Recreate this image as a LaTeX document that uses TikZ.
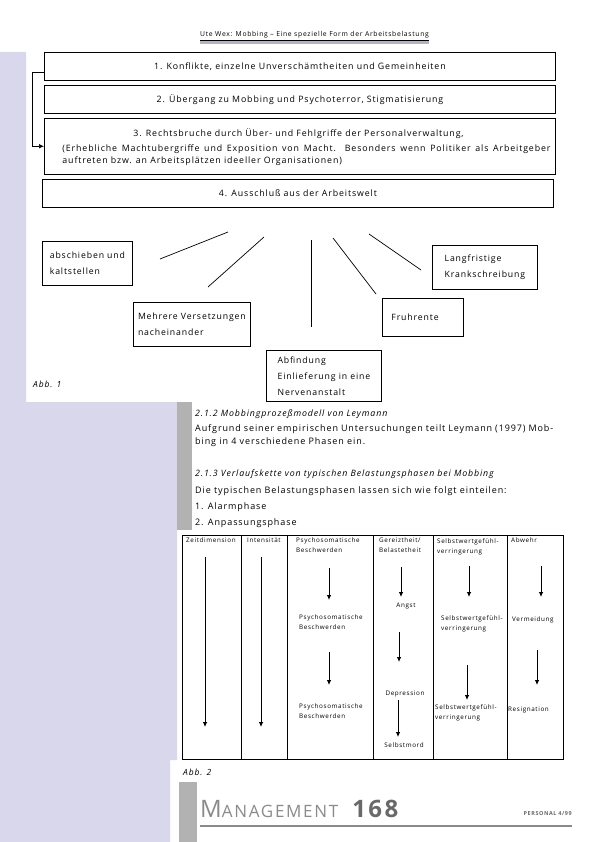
\documentclass[tikz,border=0pt]{standalone}
\usepackage{fontspec}
\setmainfont{Open Sans}[LetterSpace=10]
\usetikzlibrary{arrows.meta, positioning}
\definecolor{lavendel}{RGB}{217,215,236}
\definecolor{balken}{RGB}{178,178,178}
\definecolor{grauhell}{RGB}{138,138,138}
\definecolor{graudunkel}{RGB}{105,105,105}

\begin{document}
\begin{tikzpicture}[
    x=1pt, y=-1pt,
    % Kaesten der vier Phasen
    phase/.style={rectangle, draw=black, line width=0.9pt, minimum width=511pt, minimum height=28pt, inner sep=0pt, align=center, font=\fontsize{8.8}{12}\selectfont},
    % Kaesten der Folgen
    folge/.style={rectangle, draw=black, line width=0.8pt, anchor=north west, align=left, inner sep=0pt, font=\fontsize{8.7}{16}\selectfont},
    % Tabelle
    spalte/.style={rectangle, draw=black, line width=0.8pt, minimum width=#1, minimum height=224pt, inner sep=0pt, outer sep=0pt},
    kopf/.style={anchor=north west, align=left, inner sep=0pt, font=\fontsize{6.3}{10}\selectfont},
    eintrag/.style={align=left, inner sep=0pt, font=\fontsize{6.3}{10}\selectfont},
    % Text
    titel/.style={anchor=base west, inner sep=0pt, font=\fontsize{8.8}{12}\selectfont\itshape},
    absatz/.style={anchor=north west, inner sep=0pt, align=justify, font=\fontsize{9}{13}\selectfont},
    abb/.style={anchor=base west, inner sep=0pt, font=\fontsize{8.5}{10}\selectfont\itshape},
    % Linien und Pfeile
    linie/.style={line width=0.7pt},
    pfeil/.style={-{Latex[length=5pt, width=4.5pt]}, line width=0.8pt}
]
\useasboundingbox (0,0) rectangle (595,842);

% Hintergrund
\fill[lavendel] (0,52) -- (26,52) -- (26,402) -- (177,402) -- (177,760) -- (170,760) -- (170,842) -- (0,842) -- cycle;
\fill[balken] (177,402) rectangle (192,530);
\fill[balken] (179,782) rectangle (197,842);

% Kopfzeile
\node[anchor=base west, inner sep=0pt, font=\fontsize{6.8}{8}\selectfont] (kopfzeile) at (200,37) {Ute Wex: Mobbing – Eine spezielle Form der Arbeitsbelastung};
\draw[line width=0.4pt] ([yshift=-1pt]kopfzeile.south west) -- ([yshift=-1pt]kopfzeile.south east);
\draw[line width=3pt, lavendel!60!gray] ([yshift=-4pt]kopfzeile.south west) -- ([yshift=-4pt]kopfzeile.south east);

% Die vier Phasen
\node[phase, anchor=north west] (p1) at (44,52) {1. Konflikte, einzelne Unverschämtheiten und Gemeinheiten};
\node[phase, below=4pt of p1] (p2) {2. Übergang zu Mobbing und Psychoterror, Stigmatisierung};
\node[phase, below=4pt of p2, minimum height=56pt] (p3) {\hspace*{13pt}\parbox{488pt}{\vspace*{2pt}\hspace*{71pt}3. Rechtsbruche durch Über- und Fehlgriffe der Personalverwaltung,\\[3pt] (Erhebliche Machtubergriffe und Exposition von Macht. Besonders wenn Politiker als Arbeitgeber\linebreak auftreten bzw. an Arbeitsplätzen ideeller Organisationen)}};
\node[phase, below=4pt of p3, xshift=-2pt] (p4) {4. Ausschluß aus der Arbeitswelt};

% Rueckfuehrung von Phase 1 nach Phase 3
\draw[pfeil, line width=0.7pt] ([yshift=-6pt]p1.west) -- ++(-12,0) |- (p3.west);

% Folgen
\node[folge, minimum width=90pt, minimum height=44pt] (f1) at (42,241) {abschieben und\\kaltstellen};
\node[folge, minimum width=117pt, minimum height=44pt] (f2) at (133,302) {Mehrere Versetzungen\\nacheinander};
\node[folge, minimum width=115pt, minimum height=51pt] (f3) at (266,350) {Abfindung\\Einlieferung in eine\\Nervenanstalt};
\node[folge, minimum width=81pt, minimum height=38pt, text width=63pt] (f4) at (382,298) {Fruhrente};
\node[folge, minimum width=105pt, minimum height=44pt] (f5) at (432,245) {Langfristige\\Krankschreibung};

% Strahlen unter Phase 4
\coordinate (l1o) at (228,232); \coordinate (l1u) at (160,259);
\coordinate (l2o) at (264,237); \coordinate (l2u) at (208,287);
\coordinate (l3o) at (311,240); \coordinate (l3u) at (311,327);
\coordinate (l4o) at (333,238); \coordinate (l4u) at (376,294);
\coordinate (l5o) at (369,234); \coordinate (l5u) at (421,270);
\draw[linie] (l1o) -- (l1u);
\draw[linie] (l2o) -- (l2u);
\draw[linie] (l3o) -- (l3u);
\draw[linie] (l4o) -- (l4u);
\draw[linie] (l5o) -- (l5u);

\node[abb] (abb1) at (33,387) {Abb. 1};

% Fliesstext
\node[titel] (t212) at (195,416) {2.1.2 Mobbingprozeßmodell von Leymann};
\node[absatz, text width=358pt] (a212) at (195,424) {Aufgrund seiner empirischen Untersuchungen teilt Leymann (1997) Mob-\linebreak bing in 4 verschiedene Phasen ein.};
\node[titel] (t213) at (195,476) {2.1.3 Verlaufskette von typischen Belastungsphasen bei Mobbing};
\node[absatz, align=left, font=\fontsize{9}{16}\selectfont] (a213) at (195,486) {Die typischen Belastungsphasen lassen sich wie folgt einteilen:\\1. Alarmphase\\2. Anpassungsphase};

% Tabelle der Belastungsphasen
\node[spalte=59pt, anchor=north west] (s1) at (182,535) {};
\node[spalte=46pt, right=0pt of s1] (s2) {};
\node[spalte=86pt, right=0pt of s2] (s3) {};
\node[spalte=60pt, right=0pt of s3] (s4) {};
\node[spalte=74pt, right=0pt of s4] (s5) {};
\node[spalte=56pt, right=0pt of s5] (s6) {};

\node[kopf, below right=3pt and 4pt of s1.north west] (h1) {Zeitdimension};
\node[kopf, below right=3pt and 6pt of s2.north west] (h2) {Intensität};
\node[kopf, below right=3pt and 9pt of s3.north west] (h3) {Psychosomatische\\Beschwerden};
\node[kopf, below right=3pt and 6pt of s4.north west] (h4) {Gereiztheit/\\Belastetheit};
\node[kopf, below right=3pt and 4pt of s5.north west] (h5) {Selbstwertgefühl-\\verringerung};
\node[kopf, below right=3pt and 4pt of s6.north west] (h6) {Abwehr};

\node[eintrag, anchor=north west] (ps2) at (299,615) {Psychosomatische\\Beschwerden};
\node[eintrag, anchor=north west] (ps3) at (299,704) {Psychosomatische\\Beschwerden};
\node[eintrag] (angst) at (406,606) {Angst};
\node[eintrag] (depr) at (405,694) {Depression};
\node[eintrag] (mord) at (404,745) {Selbstmord};
\node[eintrag, anchor=north west] (sw2) at (441,615) {Selbstwertgefühl-\\verringerung};
\node[eintrag, anchor=north west] (sw3) at (435,704) {Selbstwertgefühl-\\verringerung};
\node[eintrag, anchor=west] (verm) at (512,620) {Vermeidung};
\node[eintrag, anchor=west] (resi) at (508,710) {Resignation};

% Pfeile in der Tabelle
\coordinate (z1o) at (205,557); \coordinate (z1u) at (205,727);
\coordinate (i1o) at (261,557); \coordinate (i1u) at (261,727);
\coordinate (ps1o) at (329,568); \coordinate (ps1u) at (329,600);
\coordinate (ps2o) at (329,652); \coordinate (ps2u) at (329,685);
\coordinate (g1o) at (401,567); \coordinate (g1u) at (401,597);
\coordinate (g2o) at (399,632); \coordinate (g2u) at (399,662);
\coordinate (g3o) at (398,700); \coordinate (g3u) at (398,737);
\coordinate (sw1o) at (469,566); \coordinate (sw1u) at (469,597);
\coordinate (sw2o) at (467,665); \coordinate (sw2u) at (467,700);
\coordinate (ab1o) at (541,566); \coordinate (ab1u) at (541,597);
\coordinate (ab2o) at (537,650); \coordinate (ab2u) at (537,685);
\draw[pfeil] (z1o) -- (z1u);
\draw[pfeil] (i1o) -- (i1u);
\draw[pfeil] (ps1o) -- (ps1u);
\draw[pfeil] (ps2o) -- (ps2u);
\draw[pfeil] (g1o) -- (g1u);
\draw[pfeil] (g2o) -- (g2u);
\draw[pfeil] (g3o) -- (g3u);
\draw[pfeil] (sw1o) -- (sw1u);
\draw[pfeil] (sw2o) -- (sw2u);
\draw[pfeil] (ab1o) -- (ab1u);
\draw[pfeil] (ab2o) -- (ab2u);

\node[abb] (abb2) at (183,775) {Abb. 2};

% Fusszeile
\node[anchor=base west, inner sep=0pt, text=grauhell] (management) at (200,817) {\fontsize{24}{24}\selectfont M\fontsize{17}{17}\selectfont ANAGEMENT\hspace{14pt}\textcolor{graudunkel}{\fontsize{24}{24}\selectfont\bfseries 168}};
\draw[line width=2.5pt, grauhell] ([yshift=-9pt]management.base west) -- ++(372,0);
\node[anchor=base east, inner sep=0pt, font=\fontsize{5.5}{7}\selectfont\bfseries, text=graudunkel] (heft) at (572,815) {PERSONAL 4/99};
\end{tikzpicture}
\end{document}
